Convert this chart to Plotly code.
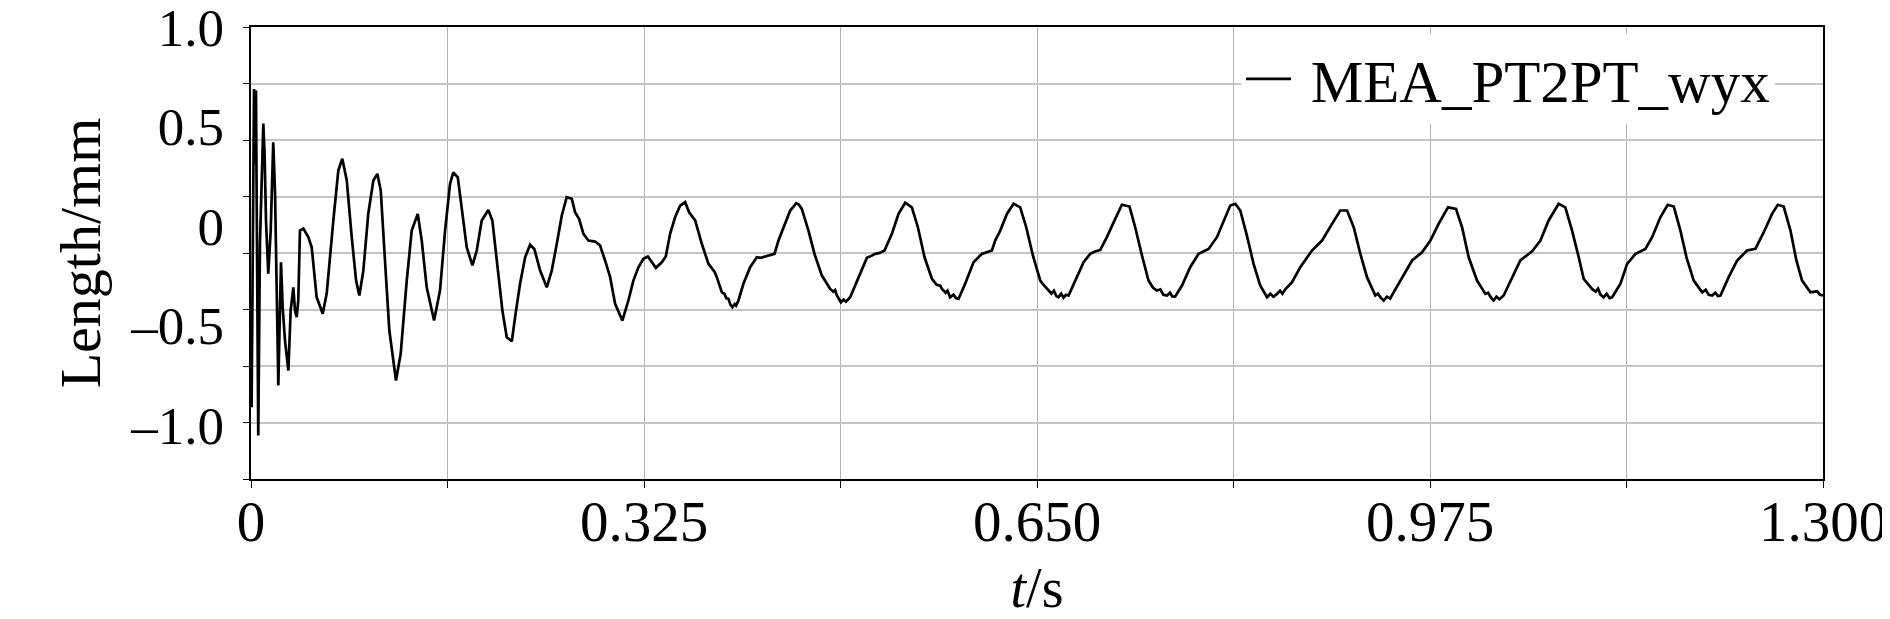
import plotly.graph_objects as go

# ---- data ----
# transient part
time_early = [
    0.0005, 0.0025, 0.0033, 0.0041, 0.0060, 0.0074, 0.0102, 0.0113, 0.0124, 0.0143,
    0.0163, 0.0176, 0.0184, 0.0199, 0.0213, 0.0226, 0.0248, 0.0262, 0.0281, 0.0309,
    0.0328, 0.0350, 0.0364, 0.0378, 0.0391, 0.0405, 0.0433, 0.0474, 0.0502, 0.0543,
    0.0593, 0.0626, 0.0681, 0.0722, 0.0755, 0.0792, 0.0833, 0.0869, 0.0896, 0.0929,
    0.0970, 0.1012, 0.1045, 0.1073, 0.1108, 0.1144, 0.1199, 0.1238, 0.1288, 0.1329,
    0.1379, 0.1412, 0.1453, 0.1514, 0.1563, 0.1605, 0.1646, 0.1673, 0.1710, 0.1743,
    0.1784, 0.1831, 0.1867, 0.1908, 0.1963, 0.1996, 0.2032, 0.2079, 0.2115, 0.2157,
    0.2184, 0.2225, 0.2267, 0.2308, 0.2343, 0.2391, 0.2446, 0.2487, 0.2529, 0.2570,
    0.2611, 0.2653, 0.2680, 0.2713, 0.2749, 0.2790, 0.2846, 0.2887, 0.2928, 0.2970,
    0.3011, 0.3071, 0.3121, 0.3162, 0.3204, 0.3245, 0.3282, 0.3315, 0.3348, 0.3397,
    0.3430, 0.3466, 0.3507, 0.3549, 0.3590, 0.3623,
]
len_early = [
    -0.911, 0.689, 0.314, 0.681, -1.053, -0.088, 0.515, 0.346, 0.028, -0.239,
    -0.023, 0.245, 0.421, 0.163, -0.389, -0.801, -0.182, -0.408, -0.575, -0.726,
    -0.425, -0.308, -0.425, -0.458, -0.374, -0.023, -0.013, -0.056, -0.107, -0.358,
    -0.441, -0.339, 0.028, 0.279, 0.338, 0.229, -0.056, -0.274, -0.349, -0.224,
    0.063, 0.229, 0.262, 0.178, -0.173, -0.525, -0.776, -0.641, -0.274, -0.023,
    0.061, -0.073, -0.308, -0.475, -0.324, -0.023, 0.212, 0.270, 0.245, 0.094,
    -0.107, -0.198, -0.123, 0.028, 0.081, 0.028, -0.157, -0.425, -0.559, -0.579,
    -0.458, -0.290, -0.157, -0.094, -0.115, -0.224, -0.308, -0.224, -0.089, 0.053,
    0.145, 0.137, 0.069, 0.036, -0.039, -0.073, -0.078, -0.098, -0.173, -0.257,
    -0.391, -0.475, -0.374, -0.274, -0.207, -0.165, -0.153, -0.182, -0.210, -0.182,
    -0.153, -0.039, 0.044, 0.103, 0.120, 0.069,
]
# steady periodic part
time_steady = [
    0.3673, 0.3728, 0.3783, 0.3815, 0.3835, 0.3852, 0.3894, 0.3915, 0.3930, 0.3948,
    0.3965, 0.3981, 0.4000, 0.4012, 0.4031, 0.4072, 0.4128, 0.4183, 0.4215, 0.4252,
    0.4290, 0.4329, 0.4362, 0.4417, 0.4459, 0.4490, 0.4508, 0.4530, 0.4555, 0.4610,
    0.4660, 0.4721, 0.4760, 0.4790, 0.4815, 0.4830, 0.4845, 0.4878, 0.4900, 0.4920,
    0.4955, 0.5024, 0.5093, 0.5130, 0.5162, 0.5200, 0.5239, 0.5300, 0.5355, 0.5410,
    0.5465, 0.5515, 0.5570, 0.5631, 0.5670, 0.5700, 0.5714, 0.5745, 0.5760, 0.5782,
    0.5810, 0.5830, 0.5851, 0.5906, 0.5975, 0.6044, 0.6085, 0.6127, 0.6154, 0.6196,
    0.6251, 0.6306, 0.6361, 0.6411, 0.6466, 0.6527, 0.6560, 0.6595, 0.6620, 0.6640,
    0.6660, 0.6678, 0.6700, 0.6720, 0.6740, 0.6761, 0.6816, 0.6885, 0.6940, 0.6980,
    0.7023, 0.7078, 0.7147, 0.7202, 0.7265, 0.7312, 0.7368, 0.7422, 0.7460, 0.7492,
    0.7520, 0.7545, 0.7575, 0.7600, 0.7620, 0.7643, 0.7699, 0.7767, 0.7836, 0.7919,
    0.7988, 0.8043, 0.8098, 0.8140, 0.8181, 0.8236, 0.8291, 0.8346, 0.8375, 0.8402,
    0.8430, 0.8455, 0.8484, 0.8510, 0.8530, 0.8553, 0.8609, 0.8677, 0.8774, 0.8857,
    0.8940, 0.9008, 0.9064, 0.9119, 0.9174, 0.9229, 0.9298, 0.9320, 0.9345, 0.9367,
    0.9395, 0.9420, 0.9449, 0.9519, 0.9602, 0.9684, 0.9753, 0.9821, 0.9899, 0.9965,
    1.0015, 1.0070, 1.0139, 1.0208, 1.0230, 1.0255, 1.0276, 1.0300, 1.0325, 1.0359,
    1.0429, 1.0497, 1.0594, 1.0663, 1.0731, 1.0814, 1.0869, 1.0925, 1.0980, 1.1021,
    1.1090, 1.1120, 1.1140, 1.1160, 1.1186, 1.1210, 1.1235, 1.1256, 1.1325, 1.1380,
    1.1449, 1.1531, 1.1587, 1.1655, 1.1716, 1.1766, 1.1821, 1.1871, 1.1931, 1.2001,
    1.2030, 1.2055, 1.2083, 1.2110, 1.2130, 1.2152, 1.2220, 1.2290, 1.2372, 1.2441,
    1.2510, 1.2579, 1.2626, 1.2675, 1.2731, 1.2780, 1.2827, 1.2896, 1.2951, 1.2975,
    1.3000,
]
len_steady = [
    0.028, -0.089, -0.190, -0.215, -0.232, -0.257, -0.333, -0.340, -0.362, -0.366,
    -0.395, -0.408, -0.392, -0.400, -0.374, -0.290, -0.207, -0.157, -0.160, -0.153,
    -0.145, -0.140, -0.073, 0.011, 0.078, 0.100, 0.115, 0.108, 0.086, -0.023,
    -0.140, -0.249, -0.290, -0.316, -0.330, -0.322, -0.349, -0.383, -0.370, -0.380,
    -0.358, -0.257, -0.160, -0.150, -0.140, -0.135, -0.123, -0.039, 0.061, 0.117,
    0.094, -0.006, -0.157, -0.265, -0.295, -0.300, -0.316, -0.335, -0.325, -0.358,
    -0.345, -0.362, -0.366, -0.290, -0.182, -0.140, -0.130, -0.123, -0.073, -0.023,
    0.061, 0.112, 0.094, -0.006, -0.148, -0.274, -0.300, -0.324, -0.340, -0.325,
    -0.352, -0.358, -0.340, -0.360, -0.345, -0.349, -0.274, -0.182, -0.140, -0.128,
    -0.120, -0.056, 0.036, 0.107, 0.098, -0.006, -0.148, -0.274, -0.310, -0.324,
    -0.318, -0.345, -0.349, -0.335, -0.355, -0.354, -0.299, -0.207, -0.140, -0.115,
    -0.056, 0.028, 0.103, 0.112, 0.078, -0.048, -0.190, -0.299, -0.330, -0.358,
    -0.340, -0.355, -0.341, -0.325, -0.340, -0.318, -0.282, -0.207, -0.123, -0.073,
    0.011, 0.078, 0.078, -0.006, -0.140, -0.257, -0.349, -0.340, -0.362, -0.374,
    -0.355, -0.365, -0.333, -0.257, -0.173, -0.132, -0.073, 0.011, 0.094, 0.086,
    -0.006, -0.157, -0.274, -0.341, -0.335, -0.360, -0.374, -0.355, -0.368, -0.349,
    -0.257, -0.173, -0.127, -0.073, 0.028, 0.112, 0.094, -0.023, -0.157, -0.265,
    -0.316, -0.330, -0.315, -0.345, -0.358, -0.340, -0.362, -0.358, -0.290, -0.190,
    -0.140, -0.115, -0.056, 0.044, 0.107, 0.098, -0.023, -0.157, -0.274, -0.333,
    -0.320, -0.345, -0.349, -0.335, -0.352, -0.349, -0.257, -0.173, -0.123, -0.115,
    -0.031, 0.061, 0.107, 0.098, -0.023, -0.173, -0.274, -0.333, -0.328, -0.345,
    -0.349,
]
assert len(time_early) == len(len_early)
assert len(time_steady) == len(len_steady)
time_s = time_early + time_steady
length_mm = len_early + len_steady

series_name = "\u00a0MEA_PT2PT_wyx"

y_label_vals = [1.0, 0.5, 0.0, -0.5, -1.0]
y_label_text = ["1.0", "0.5", "0", "\u20130.5", "\u20131.0"]

x_label_vals = [0, 0.325, 0.65, 0.975, 1.3]
x_label_text = ["0", "0.325", "0.650", "0.975", "1.300"]
x_minor_vals = [0.1625, 0.4875, 0.8125, 1.1375]

# ---- styling / axis configuration ----
FONT = "Liberation Serif, Times New Roman, serif"
Y_MIN, Y_MAX = -1.271, 1.0
N_GRID = 8
grid_vals = [Y_MAX - k * (Y_MAX - Y_MIN) / N_GRID for k in range(N_GRID + 1)]
ref_line_val = grid_vals[N_GRID // 2]

fig = go.Figure()
fig.add_trace(go.Scatter(
    x=time_s, y=length_mm, mode="lines", name=series_name,
    line=dict(color="black", width=2.7),
    yaxis="y",
))
# invisible trace so the label axis (y2) is drawn
fig.add_trace(go.Scatter(x=[time_s[0]], y=[length_mm[0]], yaxis="y2",
                         mode="markers", marker=dict(opacity=0), showlegend=False,
                         hoverinfo="skip"))

fig.add_shape(type="line", xref="paper", x0=0, x1=1, yref="y",
              y0=ref_line_val, y1=ref_line_val,
              line=dict(color="#222222", width=1.6), layer="below")

fig.update_layout(
    width=1882, height=611,
    paper_bgcolor="white", plot_bgcolor="white",
    margin=dict(l=243, r=67, t=19, b=140),
    font=dict(family=FONT, color="black"),
    showlegend=True,
    legend=dict(
        x=0.9695, y=0.885, xanchor="right", yanchor="middle",
        bgcolor="white", borderwidth=0, itemwidth=45,
        font=dict(family=FONT, size=59, color="black"),
    ),
    xaxis=dict(
        range=[0, 1.3], tickmode="array", tickvals=x_label_vals, ticktext=x_label_text,
        showgrid=True, gridcolor="#b0b0b0", gridwidth=1,
        minor=dict(tickmode="array", tickvals=x_minor_vals, showgrid=True,
                   gridcolor="#b0b0b0", gridwidth=1, ticks="outside", ticklen=7,
                   tickcolor="black", tickwidth=1.2),
        showline=True, linecolor="black", linewidth=1.5, mirror=True,
        ticks="outside", ticklen=7, tickcolor="black", tickwidth=1.2,
        tickfont=dict(family=FONT, size=57, color="black"),
        ticklabelstandoff=-15,
        zeroline=False, automargin=False,
        title=dict(text="<i>t</i>/s", font=dict(family=FONT, size=56, color="black"),
                   standoff=30),
    ),
    yaxis=dict(
        range=[Y_MIN, Y_MAX], tickmode="array", tickvals=grid_vals,
        showticklabels=False,
        showgrid=True, gridcolor="#c4c4c4", gridwidth=1.5,
        showline=True, linecolor="black", linewidth=1.5, mirror=True,
        ticks="outside", ticklen=6, tickcolor="black", tickwidth=1.2,
        zeroline=False, automargin=False,
    ),
    yaxis2=dict(
        range=[Y_MIN, Y_MAX], overlaying="y", side="left",
        tickmode="array", tickvals=y_label_vals, ticktext=y_label_text,
        showgrid=False, showline=False, ticks="", zeroline=False,
        tickfont=dict(family=FONT, size=53, color="black"),
        ticklabelstandoff=26, ticklabeloverflow="allow", automargin=False,
        title=dict(text="Length/mm", font=dict(family=FONT, size=58, color="black"),
                   standoff=10),
    ),
)

fig.write_html("out.html")
